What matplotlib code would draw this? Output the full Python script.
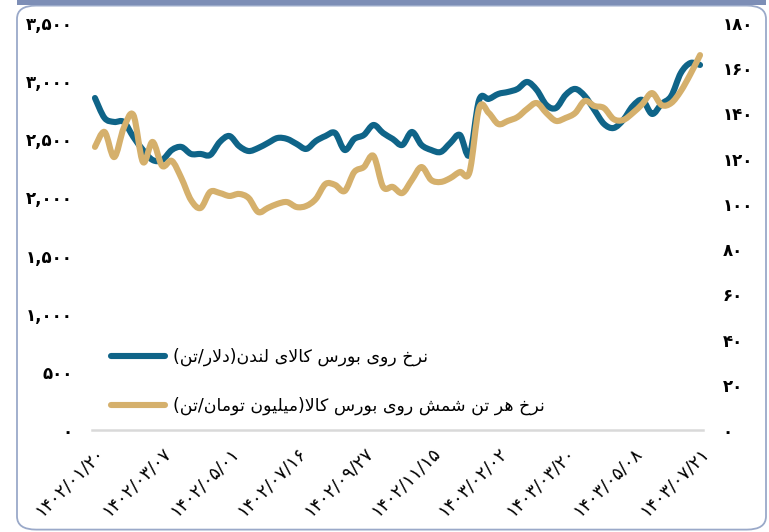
import numpy as np
import matplotlib.pyplot as plt
from matplotlib.patches import FancyBboxPatch, Rectangle, PathPatch
from matplotlib.path import Path
from matplotlib.lines import Line2D
from matplotlib.ticker import FuncFormatter

# London price (USD/ton), left axis
london = [2855, 2683, 2649, 2649, 2520, 2408, 2322, 2322, 2408, 2434,
          2374, 2374, 2365, 2477, 2528, 2442, 2399, 2425, 2468, 2511,
          2503, 2460, 2417, 2485, 2528, 2554, 2408, 2503, 2537, 2623,
          2554, 2503, 2451, 2563, 2451, 2408, 2391, 2468, 2537, 2365,
          2838, 2847, 2890, 2907, 2933, 2993, 2924, 2795, 2769, 2881,
          2933, 2872, 2752, 2632, 2597, 2666, 2786, 2838, 2718, 2804,
          2872, 3070, 3156, 3139]
# ingot price on commodity exchange (million toman/ton), right axis
ingot = [125.2, 131.8, 120.7, 133.6, 139.3, 118.5, 127.4, 116.8, 119.0, 111.4,
         101.7, 98.2, 105.3, 104.8, 103.5, 104.4, 102.6, 96.4, 98.2, 100.0,
         100.8, 98.6, 99.1, 102.2, 108.8, 108.4, 105.7, 114.1, 116.3, 121.2,
         107.5, 107.5, 104.8, 110.6, 116.3, 110.6, 109.7, 111.4, 114.1, 114.1,
         142.4, 140.2, 135.3, 136.7, 138.4, 142.0, 144.6, 140.2, 136.7, 138.0,
         140.2, 145.5, 143.3, 142.4, 137.5, 137.1, 140.2, 144.2, 149.0, 143.7,
         144.6, 149.9, 157.4, 165.8]
date_labels = ['۱۴۰۲/۰۱/۲۰', '۱۴۰۲/۰۳/۰۷', '۱۴۰۲/۰۵/۰۱', '۱۴۰۲/۰۷/۱۶', '۱۴۰۲/۰۹/۲۷',
               '۱۴۰۲/۱۱/۱۵', '۱۴۰۳/۰۲/۰۲', '۱۴۰۳/۰۳/۲۰', '۱۴۰۳/۰۵/۰۸', '۱۴۰۳/۰۷/۲۱']
label_every = 7
name_london = 'نرخ روی بورس کالای لندن(دلار/تن)'
name_ingot = 'نرخ هر تن شمش روی بورس کالا(میلیون تومان/تن)'

# matplotlib has no arabic shaping, so do it by hand with presentation forms
FORMS = {
    'ا': ('\uFE8D', '\uFE8E', None, None),
    'ب': ('\uFE8F', '\uFE90', '\uFE91', '\uFE92'),
    'ت': ('\uFE95', '\uFE96', '\uFE97', '\uFE98'),
    'خ': ('\uFEA5', '\uFEA6', '\uFEA7', '\uFEA8'),
    'د': ('\uFEA9', '\uFEAA', None, None),
    'ر': ('\uFEAD', '\uFEAE', None, None),
    'س': ('\uFEB1', '\uFEB2', '\uFEB3', '\uFEB4'),
    'ش': ('\uFEB5', '\uFEB6', '\uFEB7', '\uFEB8'),
    'ل': ('\uFEDD', '\uFEDE', '\uFEDF', '\uFEE0'),
    'م': ('\uFEE1', '\uFEE2', '\uFEE3', '\uFEE4'),
    'ن': ('\uFEE5', '\uFEE6', '\uFEE7', '\uFEE8'),
    'ه': ('\uFEE9', '\uFEEA', '\uFEEB', '\uFEEC'),
    'و': ('\uFEED', '\uFEEE', None, None),
    'ی': ('\uFBFC', '\uFBFD', '\uFBFE', '\uFBFF'),
    'ک': ('\uFB8E', '\uFB8F', '\uFB90', '\uFB91'),
}
RIGHT_ONLY = set('ادرو')


def shape(s):
    res = []
    i = 0
    while i < len(s):
        c = s[i]
        if c not in FORMS:
            res.append(c)
            i += 1
            continue
        prev = s[i - 1] if i > 0 else ''
        link_prev = prev in FORMS and prev not in RIGHT_ONLY
        nxt = s[i + 1] if i + 1 < len(s) else ''
        if c == 'ل' and nxt == 'ا':
            res.append('\uFEFC' if link_prev else '\uFEFB')
            i += 2
            continue
        link_next = c not in RIGHT_ONLY and nxt in FORMS
        isol, fina, init, medi = FORMS[c]
        if link_prev and link_next:
            g = medi
        elif link_prev:
            g = fina
        elif link_next:
            g = init
        else:
            g = isol
        res.append(g)
        i += 1
    return ''.join(reversed(res)).translate(str.maketrans('()', ')('))


def fa_num(v, pos=None):
    s = '{:,.0f}'.format(v)
    return s.translate(str.maketrans('0123456789', '۰۱۲۳۴۵۶۷۸۹'))


def smooth_path(xs, ys):
    # excel style smoothed line: bezier through every point
    p = np.column_stack([xs, ys]).astype(float)
    verts = [p[0]]
    codes = [Path.MOVETO]
    n = len(p)
    for i in range(n - 1):
        p0 = p[i - 1] if i > 0 else p[i]
        p3 = p[i + 2] if i + 2 < n else p[i + 1]
        c1 = p[i] + (p[i + 1] - p0) / 6
        c2 = p[i + 1] - (p3 - p[i]) / 6
        verts += [c1, c2, p[i + 1]]
        codes += [Path.CURVE4] * 3
    return Path(verts, codes)


plt.rcParams['font.family'] = ['DejaVu Sans']
blue = '#0f6488'
gold = '#d5b06c'
lw = 4.4

fig = plt.figure(figsize=(7.69, 5.32), dpi=100)
ax = fig.add_axes([0.1196, 0.1917, 0.7946, 0.7651])
ax2 = ax.twinx()

x = np.arange(len(london))
ax.add_patch(PathPatch(smooth_path(x, london), fill=False, edgecolor=blue, lw=lw,
                       capstyle='round', joinstyle='round'))
ax2.add_patch(PathPatch(smooth_path(x, ingot), fill=False, edgecolor=gold, lw=lw,
                        capstyle='round', joinstyle='round'))

ax.set_xlim(-0.31, len(london) - 1 + 0.31)
ax2.set_xlim(-0.31, len(london) - 1 + 0.31)
ax.set_ylim(0, 3500)
ax2.set_ylim(0, 180)
ax.set_yticks(np.arange(0, 3501, 500))
ax2.set_yticks(np.arange(0, 181, 20))
ax.yaxis.set_major_formatter(FuncFormatter(fa_num))
ax2.yaxis.set_major_formatter(FuncFormatter(fa_num))
ax.set_xticks(np.arange(0, len(london), label_every))
ax.set_xticklabels(date_labels, rotation=45, ha='right', rotation_mode='anchor', fontsize=13)

for a in (ax, ax2):
    for side in ('top', 'left', 'right', 'bottom'):
        a.spines[side].set_visible(False)
ax.spines['bottom'].set_visible(True)
ax.spines['bottom'].set_color('#d9d9d9')
ax.spines['bottom'].set_linewidth(1.8)
ax.tick_params(axis='y', length=0, pad=14, labelsize=12)
ax2.tick_params(axis='y', length=0, pad=14, labelsize=12)
ax.tick_params(axis='x', length=0, pad=10)
for lab in ax.get_yticklabels() + ax2.get_yticklabels():
    lab.set_fontweight('bold')

h1 = Line2D([], [], color=blue, lw=lw, solid_capstyle='round')
h2 = Line2D([], [], color=gold, lw=lw, solid_capstyle='round')
leg = fig.legend([h1, h2], [shape(name_london), shape(name_ingot)], loc='upper left',
                 bbox_to_anchor=(0.1335, 0.362), frameon=False, fontsize=12.5,
                 handlelength=3.1, handletextpad=0.45, labelspacing=1.75, borderpad=0)

# rounded frame around the chart
fig.patches.append(FancyBboxPatch((0.0221, 0.0045), 0.974, 0.985,
                                  boxstyle='round,pad=0,rounding_size=0.025',
                                  transform=fig.transFigure, fill=False,
                                  edgecolor='#9aa9c9', lw=1.3))
fig.patches.append(Rectangle((0.0221, 0.990), 0.974, 0.010, transform=fig.transFigure,
                             color='#7d8eb6', lw=0))

fig.savefig('out.png', dpi=100)
